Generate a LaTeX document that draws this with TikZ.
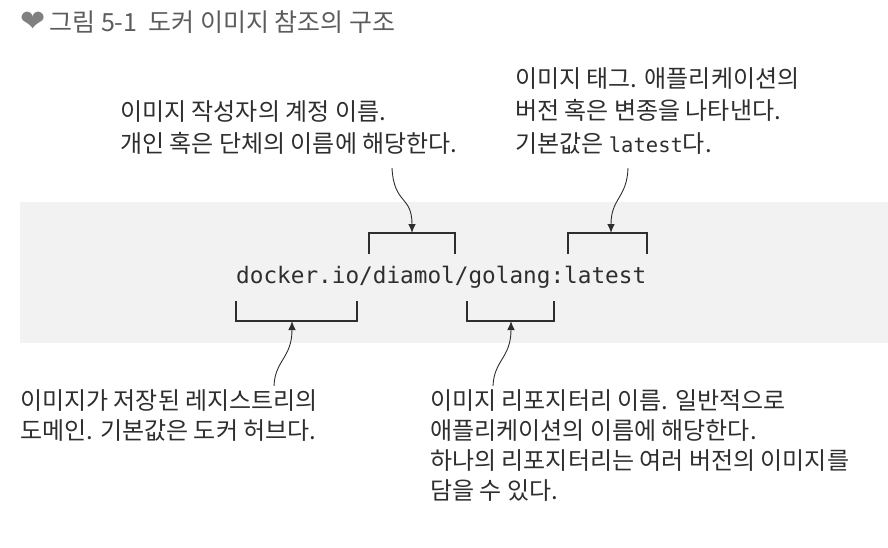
\documentclass[tikz,border=0pt]{standalone}
\usepackage{fontspec}
\usepackage{xcolor}
\usepackage{tikz}
\usetikzlibrary{arrows.meta}
\setmainfont{Noto Sans CJK KR}
\newfontfamily\codefont{DejaVu Sans Mono}
\newfontfamily\symfont{DejaVu Sans}
\definecolor{inkgray}{HTML}{2E2E2E}
\definecolor{titlegray}{HTML}{5C5C5C}
\definecolor{bandgray}{HTML}{F2F2F2}

\begin{document}
\begin{tikzpicture}[x=1pt,y=-1pt,
    note/.style={anchor=north west,inner sep=0pt,align=left,text=inkgray},
    bracket/.style={draw=inkgray,line width=1.3pt},
    pointer/.style={draw=inkgray,line width=0.9pt,-{Latex[length=9pt,width=7.5pt]}}]
        \useasboundingbox (0,0) rectangle (888,547);

        % Draw the caption
        \node[anchor=west,inner sep=0pt,text=titlegray,font=\fontsize{25}{28}\selectfont] (caption) at (20,22)
            {{\symfont\fontsize{30}{30}\selectfont\color{gray}❤}\,그림 5-1\ \ 도커 이미지 참조의 구조};

        % Draw the grey band behind the reference
        \fill[bandgray] (20,202) rectangle (888,343);

        % Draw the image reference
        \node[anchor=base west,inner sep=0pt,text=inkgray,font=\codefont\fontsize{22.7}{24}\selectfont] (imgref) at (236,283)
            {docker.io/diamol/golang:latest};

        % Draw the brackets above and below its parts
        \draw[bracket] (369,254) -- (369,233) -- (455,233) -- (455,254);
        \draw[bracket] (568,254) -- (568,233) -- (647,233) -- (647,254);
        \draw[bracket] (236,301) -- (236,321) -- (357,321) -- (357,301);
        \draw[bracket] (467,301) -- (467,321) -- (554,321) -- (554,301);

        % Bracket middles and tails of the pointers
        \coordinate (account) at (412,233);
        \coordinate (tag) at (611,233);
        \coordinate (registry) at (292,321);
        \coordinate (repo) at (511,321);
        \coordinate (account tail) at (392,168);
        \coordinate (tag tail) at (628,168);
        \coordinate (registry tail) at (274,386);
        \coordinate (repo tail) at (493,386);

        % Label the parts
        \node[note,font=\fontsize{24}{32.5}\selectfont] (accountnote) at (120,100)
            {이미지 작성자의 계정 이름.\\개인 혹은 단체의 이름에 해당한다.};
        \node[note,font=\fontsize{24}{32.5}\selectfont] (tagnote) at (515,67)
            {이미지 태그. 애플리케이션의\\버전 혹은 변종을 나타낸다.\\기본값은 {\codefont\fontsize{20.5}{20}\selectfont latest}다.};
        \node[note,font=\fontsize{24}{30}\selectfont] (registrynote) at (20,389)
            {이미지가 저장된 레지스트리의\\도메인. 기본값은 도커 허브다.};
        \node[note,font=\fontsize{24}{30}\selectfont] (reponote) at (430,389)
            {이미지 리포지터리 이름. 일반적으로\\애플리케이션의 이름에 해당한다.\\하나의 리포지터리는 여러 버전의 이미지를\\담을 수 있다.};

        % Draw the pointers
        \draw[pointer] (account tail) .. controls (394,205) and (412,195) .. (account);
        \draw[pointer] (tag tail) .. controls (627,198) and (611,198) .. (tag);
        \draw[pointer] (registry tail) .. controls (275,360) and (292,358) .. (registry);
        \draw[pointer] (repo tail) .. controls (494,360) and (511,358) .. (repo);

    \end{tikzpicture}
\end{document}
